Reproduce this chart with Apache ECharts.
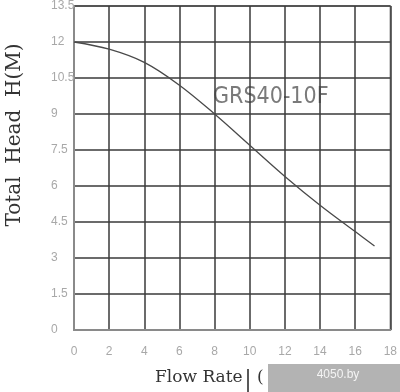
<!DOCTYPE html>
<html><head><meta charset="utf-8">
<script src="https://cdn.jsdelivr.net/npm/echarts@6/dist/echarts.min.js"></script>
<style>html,body{margin:0;padding:0;background:#fff}#c{width:400px;height:392px}</style>
</head><body><div id="c"></div>
<script>
var flowRate = [0, 2, 4, 6, 8, 10, 12, 14, 16, 17.1];
var totalHead = [12, 11.7, 11.15, 10.2, 9.0, 7.7, 6.4, 5.2, 4.1, 3.5];
var xTicks = {min: 0, max: 18, interval: 2};
var yTicks = {min: 0, max: 13.5, interval: 1.5};
var modelName = 'GRS40-10F';
var xTitle = 'Flow Rate';
var xTitleParen = '(';
var yTitle = 'Total  Head  H(M)';
var watermark = '4050.by';

var chart = echarts.init(document.getElementById('c'), null, {renderer: 'canvas'});
var pts = flowRate.map(function (x, i) { return [x, totalHead[i]]; });
var labelFont = {color: '#a8a8a8', fontSize: 12, fontFamily: 'Liberation Sans Narrow, Liberation Sans, sans-serif'};
chart.setOption({
  animation: false,
  backgroundColor: '#fff',
  grid: {left: 74, top: 6, width: 324, height: 324, show: true, borderColor: '#8a8a8a', borderWidth: 1.5},
  xAxis: {
    type: 'value', min: xTicks.min, max: xTicks.max, interval: xTicks.interval,
    axisLine: {show: true, lineStyle: {color: '#8a8a8a', width: 2}},
    axisTick: {show: false},
    splitLine: {show: true, lineStyle: {color: '#3a3a3a', width: 1.5}},
    axisLabel: Object.assign({margin: 16}, labelFont)
  },
  yAxis: {
    type: 'value', min: yTicks.min, max: yTicks.max, interval: yTicks.interval,
    axisLine: {show: true, lineStyle: {color: '#8a8a8a', width: 2}},
    axisTick: {show: false},
    splitLine: {show: true, lineStyle: {color: '#3a3a3a', width: 1.5}},
    axisLabel: Object.assign({margin: 23, align: 'left'}, labelFont)
  },
  series: [{
    type: 'line', data: pts, smooth: 0.35, showSymbol: false,
    lineStyle: {color: '#4a4a4a', width: 1.3}
  }],
  graphic: [
    {type: 'text', left: 213, top: 86, style: {text: modelName, fill: '#7a7a7a', font: '23px "Liberation Sans Narrow", "DejaVu Sans Condensed", sans-serif'}},
    {type: 'text', x: 15, y: 135, rotation: Math.PI / 2, style: {text: yTitle, fill: '#333', font: '20px "DejaVu Serif", serif', align: 'center', verticalAlign: 'middle'}},
    {type: 'text', left: 155, top: 369, style: {text: xTitle, fill: '#333', font: '17px "DejaVu Serif", serif'}},
    {type: 'text', left: 257, top: 369, style: {text: xTitleParen, fill: '#333', font: '17px "DejaVu Serif", serif'}},
    {type: 'line', shape: {x1: 248, y1: 369, x2: 248, y2: 392}, style: {stroke: '#222', lineWidth: 1.5}},
    {type: 'rect', shape: {x: 268, y: 364, width: 132, height: 28}, style: {fill: '#b3b3b3'}},
    {type: 'text', x: 338, y: 375, style: {text: watermark, fill: '#f4f4f4', font: '12px "Liberation Sans", sans-serif', align: 'center', verticalAlign: 'middle'}}
  ]
});
</script></body></html>
